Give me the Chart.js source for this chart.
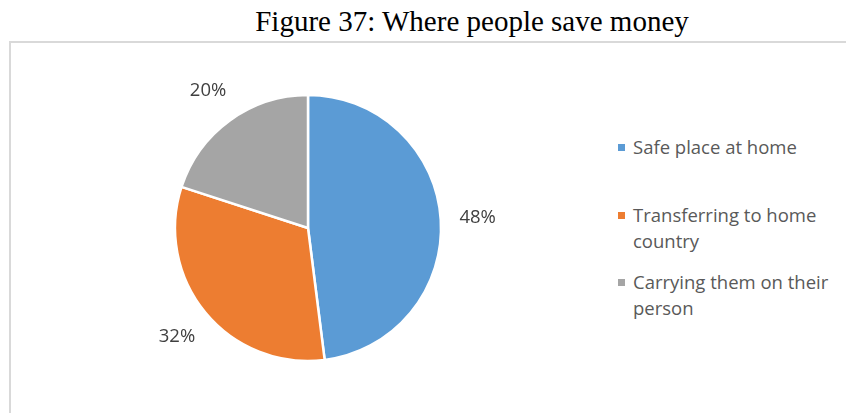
<!DOCTYPE html>
<html>
<head>
<meta charset="utf-8">
<script src="https://cdn.jsdelivr.net/npm/chart.js@4"></script>
<style>
  html, body { margin: 0; padding: 0; background: #fff; }
  body { width: 846px; height: 413px; position: relative; overflow: hidden; }
  #title {
    position: absolute; left: 0; width: 944px; top: 5px;
    text-align: center; font-family: "Liberation Serif", "Times New Roman", serif;
    font-size: 29px; color: #000; line-height: 32px;
  }
  #frame {
    position: absolute; left: 9px; top: 41px; width: 900px; height: 400px;
    border-left: 2px solid #d9d9d9; border-top: 2px solid #d9d9d9;
  }
  #chartBox { position: absolute; left: 100px; top: 43px; width: 416px; height: 370px; }
  #legend {
    position: absolute; left: 618px; top: 134px; width: 228px;
    font-family: "Open Sans", sans-serif; font-size: 18.5px; color: #595959; line-height: 26px;
  }
  .item { position: absolute; padding-left: 15px; }
  .item .sw { position: absolute; left: 0; top: 10px; width: 7px; height: 7px; }
</style>
</head>
<body>
<div id="title">Figure 37: Where people save money</div>
<div id="frame"></div>
<div id="chartBox"><canvas id="pie"></canvas></div>
<div id="legend"></div>
<script>
const categories = ['Safe place at home', 'Transferring to home country', 'Carrying them on their person'];
const shares = [48, 32, 20];
const sliceColors = ['#5B9BD5', '#ED7D31', '#A5A5A5'];
const legendTops = [0, 68, 135];

// percentage labels outside each slice
const outsideLabels = {
  id: 'outsideLabels',
  afterDatasetsDraw(chart) {
    const ctx = chart.ctx;
    const meta = chart.getDatasetMeta(0);
    ctx.save();
    ctx.font = '18.5px "Open Sans", sans-serif';
    ctx.fillStyle = '#404040';
    ctx.textAlign = 'center';
    ctx.textBaseline = 'middle';
    meta.data.forEach((arc, i) => {
      const mid = (arc.startAngle + arc.endAngle) / 2;
      const r = arc.outerRadius + 37;
      ctx.fillText(shares[i] + '%', arc.x + Math.cos(mid) * r, arc.y + Math.sin(mid) * r);
    });
    ctx.restore();
  }
};

new Chart(document.getElementById('pie'), {
  type: 'pie',
  data: {
    labels: categories,
    datasets: [{
      data: shares,
      backgroundColor: sliceColors,
      borderColor: '#ffffff',
      borderWidth: 2.5
    }]
  },
  options: {
    responsive: true,
    maintainAspectRatio: false,
    animation: false,
    radius: 133,
    layout: { padding: 0 },
    plugins: { legend: { display: false }, tooltip: { enabled: false } }
  },
  plugins: [outsideLabels]
});

// legend on the right
const legend = document.getElementById('legend');
categories.forEach((name, i) => {
  const item = document.createElement('div');
  item.className = 'item';
  item.style.top = legendTops[i] + 'px';
  item.style.width = '213px';
  const sw = document.createElement('span');
  sw.className = 'sw';
  sw.style.background = sliceColors[i];
  item.appendChild(sw);
  item.appendChild(document.createTextNode(name));
  legend.appendChild(item);
});
</script>
</body>
</html>
